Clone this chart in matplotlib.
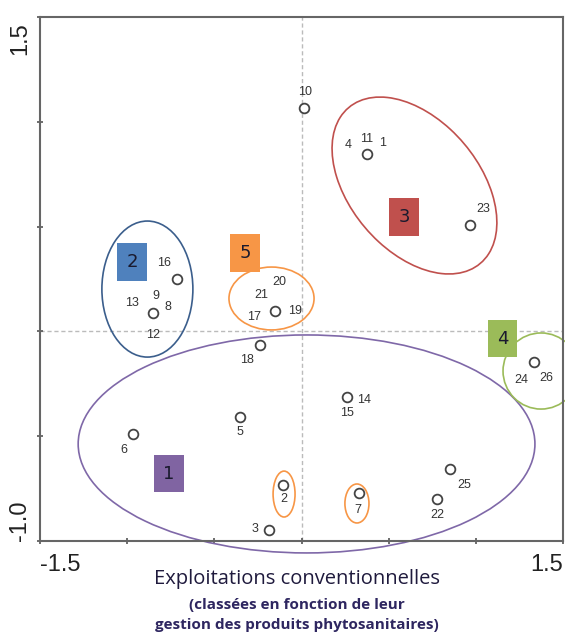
import numpy as np
import matplotlib
matplotlib.use('Agg')
from matplotlib import pyplot as plt
from matplotlib.patches import Ellipse, Rectangle

# positions of the farms (circles) on the two axes
pt_x = [0.014, 0.376, 0.967, -0.714, -0.852, -0.152, -0.238, -0.353, -0.966,
        -0.186, -0.105, 0.261, 0.330, 0.852, 0.777, 1.334]
pt_y = [1.066, 0.846, 0.507, 0.250, 0.087, 0.097, -0.065, -0.408, -0.490,
        -0.948, -0.733, -0.313, -0.771, -0.657, -0.800, -0.146]
# farm numbers attached to each circle
pt_names = [['10'], ['4', '11', '1'], ['23'], ['16'], ['13', '9', '8', '12'],
            ['21', '20', '17', '19'], ['18'], ['5'], ['6'], ['3'], ['2'],
            ['14', '15'], ['7'], ['25'], ['22'], ['24', '26']]

# groups: number, square centre, colour
grp_names = ['1', '2', '3', '4', '5']
grp_x = [-0.760, -0.972, 0.588, 1.153, -0.324]
grp_y = [-0.678, 0.331, 0.546, -0.034, 0.374]
grp_colors = ['#8064a2', '#4f81bd', '#c0504d', '#9bbb59', '#f79646']

# label offsets in pixels (dx, dy up)
offsets = [[(1, 16)], [(-19, 9), (0, 15), (16, 11)], [(13, 16)], [(-13, 16)],
           [(-21, 10), (3, 17), (15, 6), (0, -22)],
           [(-14, 16), (4, 29), (-21, -6), (20, 0)], [(-13, -15)], [(0, -15)],
           [(-9, -16)], [(-14, 1)], [(1, -14)], [(17, -3), (0, -16)],
           [(-1, -17)], [(14, -16)], [(0, -16)], [(-13, -18), (12, -16)]]

# ellipses: centre x, centre y, width, height, angle, colour
ellipses = [
    (0.029, -0.537, 2.62, 1.04, 0, '#7f68a8'),
    (-0.884, 0.202, 0.522, 0.649, 0, '#3b5e8c'),
    (0.648, 0.696, 1.072, 0.676, -37.4, '#c0504d'),
    (1.374, -0.189, 0.436, 0.363, 0, '#9bbb59'),
    (-0.172, 0.157, 0.488, 0.300, 0, '#f79646'),
    (-0.100, -0.776, 0.126, 0.219, 0, '#f79646'),
    (0.318, -0.821, 0.138, 0.186, 0, '#f79646'),
]

fig = plt.figure(figsize=(5.65, 6.35), dpi=100)
ax = fig.add_axes([40 / 565, 1 - 541 / 635, 523 / 565, 524 / 635])
ax.set_xlim(-1.5, 1.5)
ax.set_ylim(-1.0, 1.5)

ax.axhline(0, color='#bbbbbb', lw=1, ls=(0, (3, 2)), zorder=1)
ax.axvline(0, color='#bbbbbb', lw=1, ls=(0, (3, 2)), zorder=1)

for cx, cy, w, h, a, c in ellipses:
    ax.add_patch(Ellipse((cx, cy), w, h, angle=a, fill=False, ec=c, lw=1.2,
                         clip_on=False, zorder=2))

ax.plot(pt_x, pt_y, 'o', ms=7, mfc='white', mec='#444444', mew=1.3, zorder=4)

for i in range(len(pt_x)):
    for name, (dx, dy) in zip(pt_names[i], offsets[i]):
        ax.annotate(name, (pt_x[i], pt_y[i]), xytext=(dx, dy),
                    textcoords='offset pixels', ha='center', va='center',
                    fontsize=9, family='Liberation Sans', color='#333333',
                    zorder=5)

sw, sh = 0.172, 0.177
for name, gx, gy, c in zip(grp_names, grp_x, grp_y, grp_colors):
    ax.add_patch(Rectangle((gx - sw / 2, gy - sh / 2), sw, sh, fc=c, ec='none',
                           zorder=6, clip_on=False))
    ax.text(gx, gy, name, ha='center', va='center', fontsize=13,
            color='#1a1a2e', zorder=7)

ax.set_xticks([-1.5, -1.0, -0.5, 0, 0.5, 1.0, 1.5])
ax.set_yticks([-1.0, -0.5, 0, 0.5, 1.0, 1.5])
ax.set_xticklabels([])
ax.set_yticklabels([])
ax.tick_params(direction='inout', length=5, width=1.2, color='#555555')
for s in ax.spines.values():
    s.set_color('#666666')
    s.set_linewidth(1.5)

# tick labels only at the ends, like the source
tkw = dict(fontsize=17, family='Liberation Sans', color='#222222')
ax.text(-1.5, -1.06, '-1.5', ha='left', va='top', **tkw)
ax.text(1.5, -1.06, '1.5', ha='right', va='top', **tkw)
ax.text(-1.55, 1.475, '1.5', ha='right', va='top', rotation=90, **tkw)
ax.text(-1.55, -1.0, '-1.0', ha='right', va='bottom', rotation=90, **tkw)

fig.text(297 / 565, 1 - 579 / 635, 'Exploitations conventionnelles',
         ha='center', va='center', fontsize=14.5, family='Open Sans',
         color='#1f1a3d')
fig.text(297 / 565, 1 - 605 / 635, '(classées en fonction de leur',
         ha='center', va='center', fontsize=11, family='Open Sans',
         weight='bold', color='#2e2660')
fig.text(297 / 565, 1 - 625 / 635, 'gestion des produits phytosanitaires)',
         ha='center', va='center', fontsize=11, family='Open Sans',
         weight='bold', color='#2e2660')

fig.savefig('out.png', dpi=100)
